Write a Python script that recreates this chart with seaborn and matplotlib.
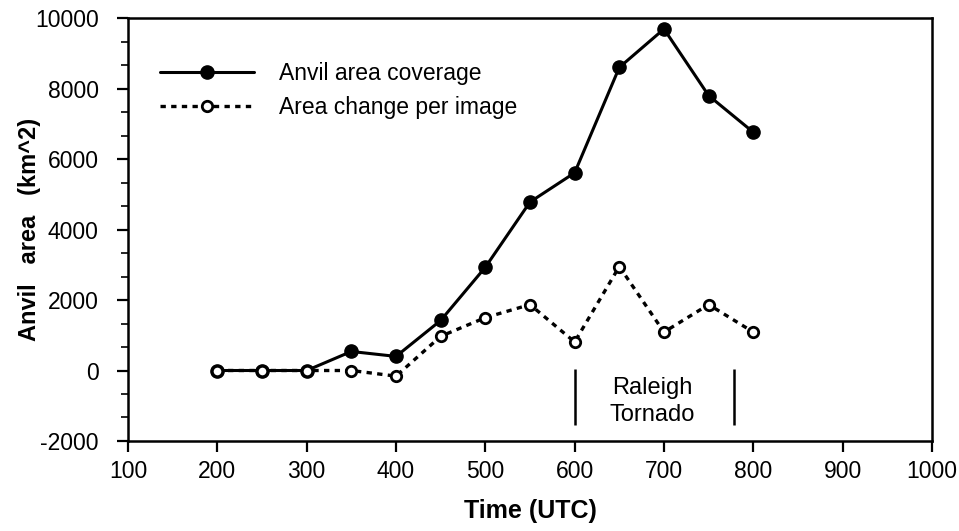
import matplotlib
matplotlib.use("Agg")
import matplotlib.pyplot as plt
from matplotlib.ticker import MultipleLocator, AutoMinorLocator
import seaborn as sns
import pandas as pd

# Observation times (UTC) and anvil measurements (km^2)
times = [200, 250, 300, 350, 400, 450, 500, 550, 600, 650, 700, 750, 800]
anvil_coverage = [0, 0, 0, 540, 400, 1420, 2930, 4780, 5610, 8600, 9690, 7800, 6760]
area_change = [0, 0, 0, 0, -160, 970, 1500, 1870, 810, 2950, 1090, 1870, 1090]

series_labels = ["Anvil area coverage", "Area change per image"]
tornado_window = [600, 778]
tornado_text = "Raleigh\nTornado"

df = pd.DataFrame({"time": times, "coverage": anvil_coverage, "change": area_change})

sns.set_style("ticks")
plt.rcParams["font.family"] = ["Liberation Sans", "DejaVu Sans"]
plt.rcParams["axes.unicode_minus"] = False
plt.rcParams["text.color"] = "black"
plt.rcParams["axes.labelcolor"] = "black"

fig = plt.figure(figsize=(9.59, 5.31), dpi=100)
ax = fig.add_axes([0.1335, 0.1695, 0.8383, 0.7965])

sns.lineplot(data=df, x="time", y="coverage", ax=ax, color="black",
             linewidth=2.2, marker="o", markersize=9.5,
             markerfacecolor="black", markeredgecolor="black",
             markeredgewidth=1, label=series_labels[0], zorder=3)
sns.lineplot(data=df, x="time", y="change", ax=ax, color="black",
             linewidth=2.4, linestyle=(0, (1.6, 1.6)), marker="o", markersize=7.5,
             markerfacecolor="white", markeredgecolor="black",
             markeredgewidth=2, label=series_labels[1], zorder=4)

# Tornado period markers
ax.vlines(tornado_window, -1550, 50, colors="black", linewidth=1.8)
ax.text(sum(tornado_window) / 2 - 2, -880, tornado_text, ha="center", va="center",
        fontsize=17, linespacing=1.35)

ax.set_xlim(100, 1000)
ax.set_ylim(-2000, 10000)
ax.xaxis.set_major_locator(MultipleLocator(100))
ax.yaxis.set_major_locator(MultipleLocator(2000))
ax.yaxis.set_minor_locator(AutoMinorLocator(3))

for side in ["top", "right", "left", "bottom"]:
    ax.spines[side].set_visible(True)
    ax.spines[side].set_linewidth(1.8)
    ax.spines[side].set_color("black")

ax.tick_params(axis="both", which="major", direction="out", length=8, width=1.6,
               labelsize=16.5, colors="black", pad=6)
ax.tick_params(axis="y", which="major", pad=13)
ax.tick_params(axis="y", which="minor", direction="out", length=5, width=1.4)
ax.tick_params(top=False, right=False)

ax.set_xlabel("Time (UTC)", fontsize=18, fontweight="bold", labelpad=11)
ax.set_ylabel("Anvil   area   (km^2)", fontsize=17, fontweight="bold", labelpad=-4)

leg = ax.legend(loc="upper left", bbox_to_anchor=(0.04, 0.895), frameon=False,
                fontsize=16.5, handlelength=4.1, handletextpad=1.1,
                labelspacing=0.45, borderaxespad=0, borderpad=0, numpoints=1)

fig.savefig("out.png", dpi=100, facecolor="white")
